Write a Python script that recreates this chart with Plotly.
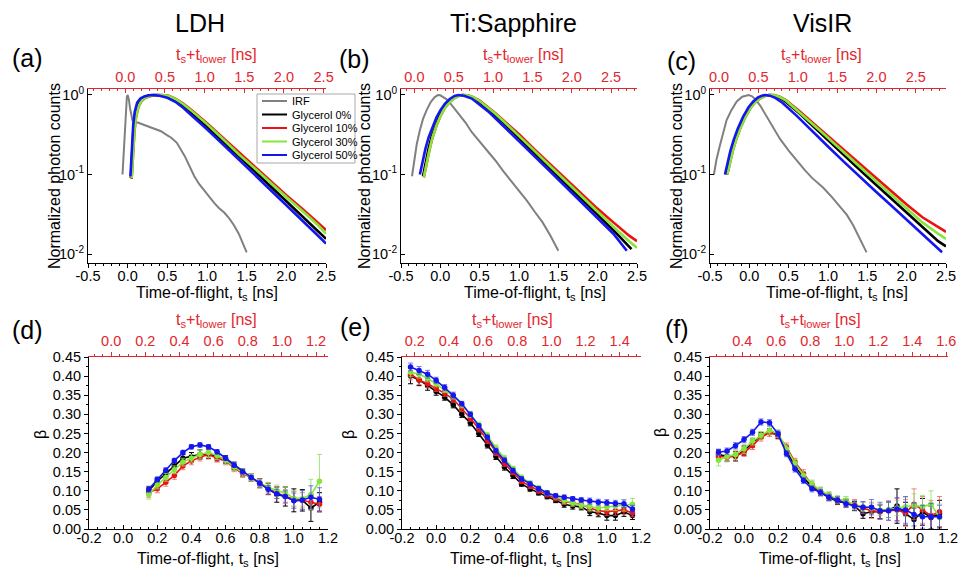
import plotly.graph_objects as go

# ---------------- data ----------------
SERIES_NAMES = ["IRF", "Glycerol 0%", "Glycerol 10%", "Glycerol 30%", "Glycerol 50%"]
PANEL_TITLES = ["LDH", "Ti:Sapphire", "VisIR"]
PANEL_LABELS = ["(a)", "(b)", "(c)", "(d)", "(e)", "(f)"]
T_LOWER = [0.03, 0.33, 0.385, 0.07, 0.325, 0.41]   # offset of the red top axes [ns]

TOF_TICKS = [-0.5, 0.0, 0.5, 1.0, 1.5, 2.0, 2.5]
TOF_TOP_TICKS = [0.0, 0.5, 1.0, 1.5, 2.0, 2.5]
LOG_TICKS = [0.01, 0.1, 1.0]
LOG_TICK_TEXT = ["10<sup>-2</sup>", "10<sup>-1</sup>", "10<sup>0</sup>"]
BETA_X_TICKS = [-0.2, 0.0, 0.2, 0.4, 0.6, 0.8, 1.0, 1.2]
BETA_TOP_TICKS_D = [0.0, 0.2, 0.4, 0.6, 0.8, 1.0, 1.2]
BETA_TOP_TICKS_E = [0.2, 0.4, 0.6, 0.8, 1.0, 1.2, 1.4]
BETA_TOP_TICKS_F = [0.4, 0.6, 0.8, 1.0, 1.2, 1.4, 1.6]
BETA_Y_TICKS = [0.0, 0.05, 0.10, 0.15, 0.20, 0.25, 0.30, 0.35, 0.40, 0.45]

# (a) LDH
A_IRF_X = [-0.065, -0.05, -0.035, -0.02, -0.01, 0.0, 0.015, 0.03, 0.06, 0.1, 0.15, 0.25, 0.35, 0.42, 0.5, 0.55,
           0.62, 0.67, 0.72, 0.76, 0.8, 0.84, 0.9, 0.97, 1.03, 1.09, 1.15, 1.22, 1.28, 1.34, 1.4, 1.45, 1.5]
A_IRF_Y = [0.1, 0.2, 0.45, 0.78, 0.95, 1.0, 0.88, 0.68, 0.48, 0.46, 0.44, 0.41, 0.37, 0.35, 0.31, 0.29,
           0.25, 0.21, 0.17, 0.14, 0.115, 0.095, 0.076, 0.062, 0.052, 0.044, 0.038, 0.033, 0.028, 0.023, 0.018, 0.014, 0.0105]
A_G0_X = [0.04, 0.055, 0.075, 0.095, 0.125, 0.165, 0.215, 0.275, 0.34, 0.42, 0.5, 0.6, 0.7, 0.8, 0.9, 1.0,
          1.2, 1.4, 1.6, 1.8, 2.0, 2.2, 2.4, 2.5]
A_G0_Y = [0.09, 0.19, 0.4, 0.6, 0.78, 0.89, 0.95, 0.99, 1.0, 0.99, 0.94, 0.85, 0.72, 0.6, 0.49, 0.4,
          0.26, 0.17, 0.11, 0.071, 0.046, 0.03, 0.0195, 0.0155]
A_G10_X = [0.05, 0.065, 0.085, 0.105, 0.135, 0.175, 0.225, 0.29, 0.36, 0.44, 0.52, 0.6, 0.7, 0.8, 0.9, 1.0,
           1.2, 1.4, 1.6, 1.8, 2.0, 2.2, 2.4, 2.5]
A_G10_Y = [0.088, 0.17, 0.34, 0.52, 0.7, 0.84, 0.92, 0.97, 0.995, 1.0, 0.98, 0.9, 0.78, 0.65, 0.54, 0.44,
           0.29, 0.19, 0.125, 0.083, 0.055, 0.037, 0.025, 0.02]
A_G30_X = [0.05, 0.065, 0.085, 0.105, 0.135, 0.175, 0.225, 0.29, 0.36, 0.44, 0.52, 0.6, 0.7, 0.8, 0.9, 1.0,
           1.2, 1.4, 1.6, 1.8, 2.0, 2.2, 2.4, 2.5]
A_G30_Y = [0.09, 0.17, 0.35, 0.53, 0.71, 0.85, 0.93, 0.975, 1.0, 1.0, 0.97, 0.89, 0.77, 0.64, 0.53, 0.43,
           0.28, 0.18, 0.12, 0.078, 0.052, 0.035, 0.023, 0.018]
A_G50_X = [0.035, 0.05, 0.07, 0.09, 0.12, 0.16, 0.21, 0.27, 0.33, 0.4, 0.5, 0.6, 0.7, 0.8, 0.9, 1.0,
           1.2, 1.4, 1.6, 1.8, 2.0, 2.2, 2.4, 2.5]
A_G50_Y = [0.095, 0.2, 0.42, 0.62, 0.8, 0.9, 0.96, 0.99, 1.0, 0.98, 0.92, 0.82, 0.69, 0.56, 0.46, 0.37,
           0.24, 0.155, 0.1, 0.064, 0.041, 0.027, 0.017, 0.0135]

# (b) Ti:Sapphire
B_IRF_X = [-0.36, -0.33, -0.3, -0.26, -0.22, -0.17, -0.12, -0.07, -0.03, 0.0, 0.04, 0.08, 0.13, 0.19, 0.25,
           0.32, 0.4, 0.5, 0.6, 0.7, 0.8, 0.9, 1.0, 1.1, 1.2, 1.3, 1.4, 1.5]
B_IRF_Y = [0.095, 0.15, 0.24, 0.36, 0.5, 0.66, 0.82, 0.94, 1.0, 0.99, 0.94, 0.88, 0.78, 0.66, 0.56,
           0.45, 0.34, 0.26, 0.2, 0.15, 0.11, 0.083, 0.064, 0.047, 0.034, 0.025, 0.017, 0.011]
B_G0_X = [-0.22, -0.19, -0.15, -0.11, -0.06, -0.01, 0.04, 0.1, 0.16, 0.22, 0.28, 0.34, 0.4, 0.5, 0.6, 0.7,
          0.8, 0.9, 1.0, 1.2, 1.4, 1.6, 1.8, 2.0, 2.2, 2.43]
B_G0_Y = [0.095, 0.14, 0.21, 0.3, 0.42, 0.55, 0.68, 0.82, 0.92, 0.98, 1.0, 0.98, 0.93, 0.81, 0.67, 0.55,
          0.45, 0.36, 0.29, 0.185, 0.118, 0.076, 0.049, 0.031, 0.02, 0.0115]
B_G10_X = [-0.21, -0.18, -0.14, -0.1, -0.05, 0.0, 0.05, 0.11, 0.17, 0.23, 0.29, 0.35, 0.42, 0.5, 0.6, 0.7,
           0.8, 0.9, 1.0, 1.2, 1.4, 1.6, 1.8, 2.0, 2.2, 2.4, 2.5]
B_G10_Y = [0.092, 0.135, 0.2, 0.29, 0.41, 0.54, 0.67, 0.8, 0.9, 0.97, 1.0, 0.99, 0.94, 0.85, 0.71, 0.59,
           0.48, 0.39, 0.32, 0.205, 0.133, 0.087, 0.057, 0.037, 0.025, 0.017, 0.0145]
B_G30_X = [-0.21, -0.18, -0.14, -0.1, -0.05, 0.0, 0.05, 0.11, 0.17, 0.23, 0.29, 0.35, 0.42, 0.5, 0.6, 0.7,
           0.8, 0.9, 1.0, 1.2, 1.4, 1.6, 1.8, 2.0, 2.2, 2.4, 2.5]
B_G30_Y = [0.092, 0.135, 0.2, 0.29, 0.41, 0.54, 0.67, 0.8, 0.9, 0.97, 1.0, 0.99, 0.94, 0.84, 0.7, 0.58,
           0.47, 0.38, 0.31, 0.197, 0.126, 0.081, 0.052, 0.034, 0.022, 0.0145, 0.012]
B_G50_X = [-0.26, -0.23, -0.19, -0.15, -0.1, -0.05, 0.0, 0.06, 0.12, 0.18, 0.23, 0.3, 0.4, 0.5, 0.6, 0.7,
           0.8, 0.9, 1.0, 1.2, 1.4, 1.6, 1.8, 2.0, 2.2, 2.37]
B_G50_Y = [0.1, 0.14, 0.21, 0.29, 0.4, 0.52, 0.64, 0.78, 0.89, 0.97, 1.0, 0.98, 0.9, 0.76, 0.63, 0.51,
           0.41, 0.33, 0.265, 0.17, 0.108, 0.069, 0.044, 0.028, 0.018, 0.011]

# (c) VisIR
C_IRF_X = [-0.45, -0.42, -0.38, -0.34, -0.29, -0.23, -0.16, -0.09, -0.04, -0.01, 0.03, 0.08, 0.14, 0.22,
           0.3, 0.39, 0.5, 0.6, 0.7, 0.8, 0.94, 1.05, 1.15, 1.24, 1.32, 1.4, 1.49]
C_IRF_Y = [0.1, 0.15, 0.22, 0.32, 0.48, 0.64, 0.83, 0.95, 0.99, 1.0, 0.97, 0.88, 0.73, 0.54,
           0.4, 0.28, 0.2, 0.15, 0.115, 0.09, 0.068, 0.052, 0.04, 0.031, 0.023, 0.016, 0.0105]
C_G0_X = [-0.29, -0.26, -0.22, -0.18, -0.13, -0.06, 0.01, 0.07, 0.13, 0.19, 0.25, 0.3, 0.37, 0.45, 0.55,
          0.65, 0.75, 0.85, 0.95, 1.05, 1.2, 1.4, 1.6, 1.8, 2.0, 2.2, 2.4, 2.5]
C_G0_Y = [0.1, 0.14, 0.2, 0.27, 0.37, 0.53, 0.7, 0.83, 0.92, 0.98, 1.0, 0.99, 0.94, 0.84, 0.7,
          0.57, 0.46, 0.37, 0.3, 0.245, 0.175, 0.115, 0.076, 0.05, 0.033, 0.022, 0.0145, 0.0125]
C_G10_X = [-0.28, -0.25, -0.21, -0.17, -0.12, -0.05, 0.02, 0.08, 0.14, 0.2, 0.26, 0.31, 0.38, 0.46, 0.55,
           0.65, 0.75, 0.85, 0.95, 1.05, 1.2, 1.4, 1.6, 1.8, 2.0, 2.2, 2.4, 2.5]
C_G10_Y = [0.1, 0.14, 0.2, 0.27, 0.37, 0.53, 0.7, 0.82, 0.91, 0.97, 1.0, 1.0, 0.96, 0.87, 0.74,
           0.61, 0.5, 0.41, 0.34, 0.28, 0.205, 0.137, 0.092, 0.062, 0.042, 0.029, 0.022, 0.019]
C_G30_X = [-0.28, -0.25, -0.21, -0.17, -0.12, -0.05, 0.02, 0.08, 0.14, 0.2, 0.26, 0.31, 0.38, 0.46, 0.55,
           0.65, 0.75, 0.85, 0.95, 1.05, 1.2, 1.4, 1.6, 1.8, 2.0, 2.2, 2.4, 2.5]
C_G30_Y = [0.1, 0.14, 0.2, 0.27, 0.37, 0.53, 0.7, 0.82, 0.91, 0.97, 1.0, 1.0, 0.95, 0.86, 0.72,
           0.59, 0.48, 0.39, 0.32, 0.26, 0.19, 0.126, 0.084, 0.056, 0.037, 0.025, 0.018, 0.0155]
C_G50_X = [-0.31, -0.28, -0.24, -0.2, -0.15, -0.08, -0.01, 0.05, 0.11, 0.16, 0.2, 0.26, 0.33, 0.42, 0.5,
           0.6, 0.7, 0.8, 0.9, 1.0, 1.2, 1.4, 1.6, 1.8, 2.0, 2.2, 2.45]
C_G50_Y = [0.1, 0.14, 0.2, 0.27, 0.37, 0.53, 0.7, 0.83, 0.93, 0.98, 1.0, 0.98, 0.92, 0.8, 0.68,
           0.55, 0.44, 0.35, 0.28, 0.225, 0.145, 0.094, 0.062, 0.041, 0.027, 0.018, 0.0105]

# (d) LDH beta
D_X = [0.15, 0.2, 0.25, 0.3, 0.35, 0.4, 0.45, 0.5, 0.55, 0.6, 0.65, 0.7, 0.75, 0.8, 0.85, 0.9, 0.95, 1.0, 1.05, 1.1, 1.15]
D_G0 = [0.100, 0.125, 0.145, 0.165, 0.185, 0.190, 0.195, 0.197, 0.190, 0.182, 0.165, 0.148, 0.135, 0.120, 0.105, 0.090, 0.085, 0.075, 0.075, 0.055, 0.070]
D_G10 = [0.095, 0.105, 0.122, 0.140, 0.165, 0.178, 0.188, 0.195, 0.185, 0.178, 0.160, 0.145, 0.135, 0.120, 0.105, 0.095, 0.085, 0.078, 0.075, 0.070, 0.065]
D_G30 = [0.090, 0.115, 0.135, 0.155, 0.175, 0.185, 0.195, 0.200, 0.192, 0.180, 0.162, 0.148, 0.135, 0.120, 0.110, 0.100, 0.095, 0.080, 0.080, 0.090, 0.125]
D_G50 = [0.104, 0.130, 0.154, 0.179, 0.200, 0.215, 0.220, 0.215, 0.202, 0.185, 0.167, 0.150, 0.135, 0.120, 0.104, 0.092, 0.085, 0.074, 0.076, 0.083, 0.078]
D_E0 = [0.010, 0.008, 0.008, 0.008, 0.010, 0.010, 0.012, 0.012, 0.012, 0.010, 0.010, 0.010, 0.010, 0.012, 0.015, 0.020, 0.025, 0.030, 0.028, 0.035, 0.025]
D_E10 = [0.012, 0.010, 0.010, 0.010, 0.010, 0.010, 0.010, 0.012, 0.010, 0.010, 0.010, 0.010, 0.010, 0.012, 0.015, 0.015, 0.018, 0.020, 0.020, 0.020, 0.020]
D_E30 = [0.012, 0.010, 0.010, 0.010, 0.010, 0.010, 0.012, 0.012, 0.010, 0.010, 0.010, 0.010, 0.010, 0.010, 0.012, 0.015, 0.015, 0.020, 0.020, 0.040, 0.070]
D_E50 = [0.008, 0.006, 0.006, 0.006, 0.006, 0.006, 0.006, 0.006, 0.006, 0.006, 0.006, 0.006, 0.006, 0.008, 0.010, 0.012, 0.015, 0.020, 0.025, 0.030, 0.030]

# (e) Ti:Sapphire beta and (f) VisIR beta share the time grid
EF_X = [-0.15, -0.1, -0.05, 0.0, 0.05, 0.1, 0.15, 0.2, 0.25, 0.3, 0.35, 0.4, 0.45, 0.5, 0.55, 0.6, 0.65, 0.7,
        0.75, 0.8, 0.85, 0.9, 0.95, 1.0, 1.05, 1.1, 1.15]
E_G0 = [0.400, 0.390, 0.375, 0.360, 0.345, 0.325, 0.300, 0.278, 0.250, 0.220, 0.190, 0.162, 0.140, 0.118, 0.105, 0.095, 0.085, 0.075, 0.065, 0.060, 0.058, 0.045, 0.042, 0.035, 0.035, 0.045, 0.035]
E_G10 = [0.405, 0.390, 0.380, 0.368, 0.355, 0.340, 0.315, 0.290, 0.262, 0.232, 0.200, 0.172, 0.148, 0.125, 0.112, 0.100, 0.090, 0.080, 0.072, 0.068, 0.065, 0.055, 0.048, 0.045, 0.048, 0.050, 0.042]
E_G30 = [0.410, 0.405, 0.395, 0.380, 0.365, 0.348, 0.325, 0.300, 0.272, 0.245, 0.212, 0.185, 0.158, 0.135, 0.120, 0.107, 0.095, 0.085, 0.075, 0.068, 0.062, 0.058, 0.055, 0.058, 0.060, 0.062, 0.065]
E_G50 = [0.424, 0.415, 0.405, 0.389, 0.370, 0.350, 0.328, 0.300, 0.270, 0.240, 0.205, 0.180, 0.153, 0.131, 0.118, 0.105, 0.094, 0.087, 0.083, 0.079, 0.076, 0.073, 0.070, 0.069, 0.067, 0.066, 0.052]
E_E0 = [0.020, 0.015, 0.012, 0.010, 0.008, 0.008, 0.008, 0.008, 0.008, 0.008, 0.008, 0.008, 0.008, 0.006, 0.006, 0.006, 0.006, 0.006, 0.008, 0.008, 0.008, 0.010, 0.010, 0.012, 0.012, 0.012, 0.010]
E_E10 = [0.015, 0.012, 0.010, 0.008, 0.008, 0.008, 0.008, 0.008, 0.008, 0.008, 0.008, 0.008, 0.006, 0.006, 0.006, 0.006, 0.006, 0.006, 0.008, 0.008, 0.008, 0.010, 0.010, 0.010, 0.012, 0.012, 0.010]
E_E30 = [0.012, 0.010, 0.010, 0.008, 0.008, 0.008, 0.008, 0.008, 0.008, 0.008, 0.008, 0.008, 0.006, 0.006, 0.006, 0.006, 0.006, 0.006, 0.008, 0.008, 0.008, 0.010, 0.010, 0.010, 0.012, 0.015, 0.015]
E_E50 = [0.010, 0.010, 0.010, 0.008, 0.008, 0.008, 0.006, 0.006, 0.006, 0.006, 0.006, 0.006, 0.006, 0.006, 0.006, 0.006, 0.006, 0.006, 0.006, 0.006, 0.006, 0.008, 0.008, 0.008, 0.008, 0.010, 0.010]

F_G0 = [0.195, 0.190, 0.190, 0.205, 0.225, 0.245, 0.255, 0.245, 0.205, 0.165, 0.135, 0.110, 0.095, 0.082, 0.072, 0.068, 0.060, 0.040, 0.045, 0.045, 0.050, 0.060, 0.040, 0.025, 0.045, 0.030, 0.040]
F_G10 = [0.190, 0.188, 0.192, 0.200, 0.218, 0.240, 0.252, 0.245, 0.215, 0.175, 0.145, 0.115, 0.098, 0.085, 0.075, 0.070, 0.065, 0.055, 0.048, 0.045, 0.048, 0.050, 0.042, 0.065, 0.050, 0.035, 0.045]
F_G30 = [0.180, 0.190, 0.195, 0.210, 0.230, 0.245, 0.258, 0.250, 0.210, 0.172, 0.140, 0.118, 0.100, 0.088, 0.078, 0.075, 0.062, 0.058, 0.055, 0.050, 0.050, 0.055, 0.058, 0.062, 0.058, 0.065, 0.030]
F_G50 = [0.201, 0.204, 0.218, 0.234, 0.253, 0.280, 0.278, 0.249, 0.197, 0.157, 0.127, 0.105, 0.096, 0.083, 0.076, 0.066, 0.061, 0.057, 0.057, 0.048, 0.048, 0.052, 0.050, 0.038, 0.032, 0.032, 0.032]
F_E0 = [0.012, 0.012, 0.012, 0.012, 0.010, 0.008, 0.008, 0.008, 0.008, 0.008, 0.008, 0.008, 0.008, 0.008, 0.008, 0.010, 0.012, 0.012, 0.015, 0.018, 0.020, 0.045, 0.030, 0.030, 0.035, 0.030, 0.035]
F_E10 = [0.012, 0.012, 0.012, 0.010, 0.010, 0.010, 0.010, 0.010, 0.010, 0.010, 0.010, 0.010, 0.010, 0.010, 0.010, 0.010, 0.012, 0.015, 0.020, 0.020, 0.025, 0.030, 0.035, 0.040, 0.035, 0.040, 0.040]
F_E30 = [0.015, 0.012, 0.012, 0.012, 0.010, 0.010, 0.010, 0.010, 0.010, 0.010, 0.010, 0.010, 0.010, 0.010, 0.010, 0.010, 0.012, 0.012, 0.015, 0.015, 0.020, 0.020, 0.025, 0.030, 0.030, 0.035, 0.035]
F_E50 = [0.008, 0.008, 0.008, 0.008, 0.008, 0.008, 0.008, 0.008, 0.008, 0.008, 0.008, 0.008, 0.008, 0.008, 0.008, 0.010, 0.012, 0.015, 0.020, 0.022, 0.025, 0.030, 0.035, 0.030, 0.030, 0.035, 0.030]

# ---------------- styling ----------------
W, H = 962, 575
FONT = "Arial, Liberation Sans, sans-serif"
RED_AX = "#e3262d"
LINE_COLORS = ["#808080", "#000000", "#ee1111", "#84e63a", "#1515f0"]
ERR_COLORS = ["#000000", "rgba(238,90,90,0.75)", "rgba(140,225,90,0.8)", "rgba(70,70,240,0.7)"]

# panel frames in pixels: (left, right, top, bottom)
FRAMES = [(88, 326, 89, 263), (401, 637, 89, 263), (710, 946, 89, 263),
          (89, 328, 357, 529), (402, 641, 357, 529), (710, 948, 357, 529)]


def fx(p):
    return p / W


def fy(p):
    return 1 - p / H


def ref(prefix, n):
    return prefix if n == 1 else f"{prefix}{n}"


fig = go.Figure()

top_data = [
    [(A_IRF_X, A_IRF_Y), (A_G0_X, A_G0_Y), (A_G10_X, A_G10_Y), (A_G30_X, A_G30_Y), (A_G50_X, A_G50_Y)],
    [(B_IRF_X, B_IRF_Y), (B_G0_X, B_G0_Y), (B_G10_X, B_G10_Y), (B_G30_X, B_G30_Y), (B_G50_X, B_G50_Y)],
    [(C_IRF_X, C_IRF_Y), (C_G0_X, C_G0_Y), (C_G10_X, C_G10_Y), (C_G30_X, C_G30_Y), (C_G50_X, C_G50_Y)],
]
for i, series in enumerate(top_data):
    n = i + 1
    for k, (xs, ys) in enumerate(series):
        fig.add_trace(go.Scatter(
            x=xs, y=ys, mode="lines", name=SERIES_NAMES[k], showlegend=False,
            line=dict(color=LINE_COLORS[k], width=2.0 if k == 0 else 2.6),
            xaxis=ref("x", n), yaxis=ref("y", n), hoverinfo="skip"))
    # same Glycerol 0% data against t_s + t_lower on the red top axis (transparent, keeps the axis alive)
    xs0, ys0 = series[1]
    fig.add_trace(go.Scatter(
        x=[v + T_LOWER[i] for v in xs0], y=ys0, mode="lines", opacity=0, showlegend=False,
        line=dict(width=0.5, color="white"), xaxis=ref("x", n + 6), yaxis=ref("y", n), hoverinfo="skip"))

bottom_data = [
    (D_X, [D_G0, D_G10, D_G30, D_G50], [D_E0, D_E10, D_E30, D_E50]),
    (EF_X, [E_G0, E_G10, E_G30, E_G50], [E_E0, E_E10, E_E30, E_E50]),
    (EF_X, [F_G0, F_G10, F_G30, F_G50], [F_E0, F_E10, F_E30, F_E50]),
]
for i, (xs, ys_list, es_list) in enumerate(bottom_data):
    n = i + 4
    for k, (ys, es) in enumerate(zip(ys_list, es_list)):
        fig.add_trace(go.Scatter(
            x=xs, y=ys, mode="lines+markers", name=SERIES_NAMES[k + 1], showlegend=False,
            line=dict(color=LINE_COLORS[k + 1], width=1.6),
            marker=dict(color=LINE_COLORS[k + 1], size=5.5),
            error_y=dict(type="data", array=es, color=ERR_COLORS[k], thickness=1, width=2.5),
            xaxis=ref("x", n), yaxis=ref("y", n), hoverinfo="skip"))
    fig.add_trace(go.Scatter(
        x=[v + T_LOWER[i + 3] for v in xs], y=ys_list[0], mode="lines", opacity=0, showlegend=False,
        line=dict(width=0.5, color="white"), xaxis=ref("x", n + 6), yaxis=ref("y", n), hoverinfo="skip"))

layout = dict(
    width=W, height=H, autosize=False, template="none",
    margin=dict(l=0, r=0, t=0, b=0, pad=0),
    paper_bgcolor="white", plot_bgcolor="white",
    font=dict(family=FONT, color="black"),
    showlegend=False,
)

base_ax = dict(showline=True, linecolor="black", linewidth=1, ticks="outside", ticklen=4, tickwidth=1,
               tickcolor="black", showgrid=False, zeroline=False, fixedrange=True, automargin=False,
               mirror=False, tickfont=dict(family=FONT, size=14.5, color="black"))
red_ax = dict(base_ax, linecolor=RED_AX, tickcolor=RED_AX, side="top",
              tickfont=dict(family=FONT, size=14.5, color=RED_AX))

top_tick_sets = [TOF_TOP_TICKS, TOF_TOP_TICKS, TOF_TOP_TICKS, BETA_TOP_TICKS_D, BETA_TOP_TICKS_E, BETA_TOP_TICKS_F]

for i, (l, r, t, b) in enumerate(FRAMES):
    n = i + 1
    is_top = i < 3
    xr = [-0.5, 2.5] if is_top else [-0.2, 1.2]
    xt = TOF_TICKS if is_top else BETA_X_TICKS
    minor_dt = 0.1 if is_top else 0.05
    bottom_dir = "outside" if is_top else "inside"
    layout[ref("xaxis", n)] = dict(
        base_ax, domain=[fx(l), fx(r)], anchor=ref("y", n), range=xr, ticks=bottom_dir,
        tickmode="array", tickvals=xt, ticktext=[f"{v:.1f}" for v in xt],
        ticklabelstandoff=-4,
        minor=dict(ticks=bottom_dir, ticklen=2, tickcolor="black", dtick=minor_dt, tick0=0, showgrid=False))
    tt = top_tick_sets[i]
    red_dir = "inside" if is_top else "outside"
    layout[ref("xaxis", n + 6)] = dict(
        red_ax, anchor=ref("y", n), overlaying=ref("x", n), ticks=red_dir,
        range=[xr[0] + T_LOWER[i], xr[1] + T_LOWER[i]],
        tickmode="array", tickvals=tt, ticktext=[f"{v:.1f}" for v in tt],
        minor=dict(ticks=red_dir, ticklen=2, tickcolor=RED_AX, dtick=minor_dt, tick0=0, showgrid=False))
    if is_top:
        layout[ref("yaxis", n)] = dict(
            base_ax, domain=[fy(b), fy(t)], anchor=ref("x", n), type="log", range=[-2.113, 0.075],
            ticks="inside", tickmode="array", tickvals=LOG_TICKS, ticktext=LOG_TICK_TEXT)
    else:
        layout[ref("yaxis", n)] = dict(
            base_ax, domain=[fy(b), fy(t)], anchor=ref("x", n), range=[0, 0.45],
            tickmode="array", tickvals=BETA_Y_TICKS, ticktext=[f"{v:.2f}" for v in BETA_Y_TICKS],
            minor=dict(ticks="outside", ticklen=2, tickcolor="black", dtick=0.025, tick0=0, showgrid=False))

annotations = []


def note(text, x, y, size, color="black", angle=0, xanchor="center"):
    annotations.append(dict(text=text, x=fx(x), y=fy(y), xref="paper", yref="paper", showarrow=False,
                            xanchor=xanchor, yanchor="middle", textangle=angle,
                            font=dict(family=FONT, size=size, color=color)))


for txt, x in zip(PANEL_TITLES, [200, 513, 822]):
    note(txt, x, 23, 25)
for txt, (x, y) in zip(PANEL_LABELS, [(27, 58), (354, 59), (681, 61), (27, 330), (355, 327), (677, 329)]):
    note(txt, x, y, 25)

red_title = "t<sub>s</sub>+t<sub>lower</sub> [ns]"
for x, y in [(216, 56), (523, 56), (821, 56), (216, 320), (512, 320), (820, 320)]:
    note(red_title, x, y, 16, RED_AX)
tof_title = "Time-of-flight, t<sub>s</sub> [ns]"
for x, y in [(207, 293), (535, 293), (837, 293), (208, 559), (521, 559), (830, 559)]:
    note(tof_title, x, y, 16)
for x in [54, 364, 676]:
    note("Normalized photon counts", x, 176, 16, angle=-90)
for x, y in [(40, 435), (348, 435), (660, 433)]:
    note("β", x, y, 16, angle=-90)

# legend of panel (a)
shapes = [dict(type="rect", xref="paper", yref="paper", x0=fx(257), x1=fx(355), y0=fy(163), y1=fy(94),
               line=dict(color="#a8a8a8", width=1), fillcolor="white", layer="above")]
for k, ly in enumerate([101, 114.5, 128, 141.5, 155]):
    shapes.append(dict(type="line", xref="paper", yref="paper", x0=fx(262), x1=fx(287), y0=fy(ly), y1=fy(ly),
                       line=dict(color=LINE_COLORS[k], width=2)))
    note(SERIES_NAMES[k], 290, ly, 11, xanchor="left")

layout["annotations"] = annotations
layout["shapes"] = shapes
fig.update_layout(**layout)
fig.write_html("out.html", config={"displayModeBar": False, "staticPlot": True},
               post_script="document.body.style.margin='0';document.body.style.padding='0';")
